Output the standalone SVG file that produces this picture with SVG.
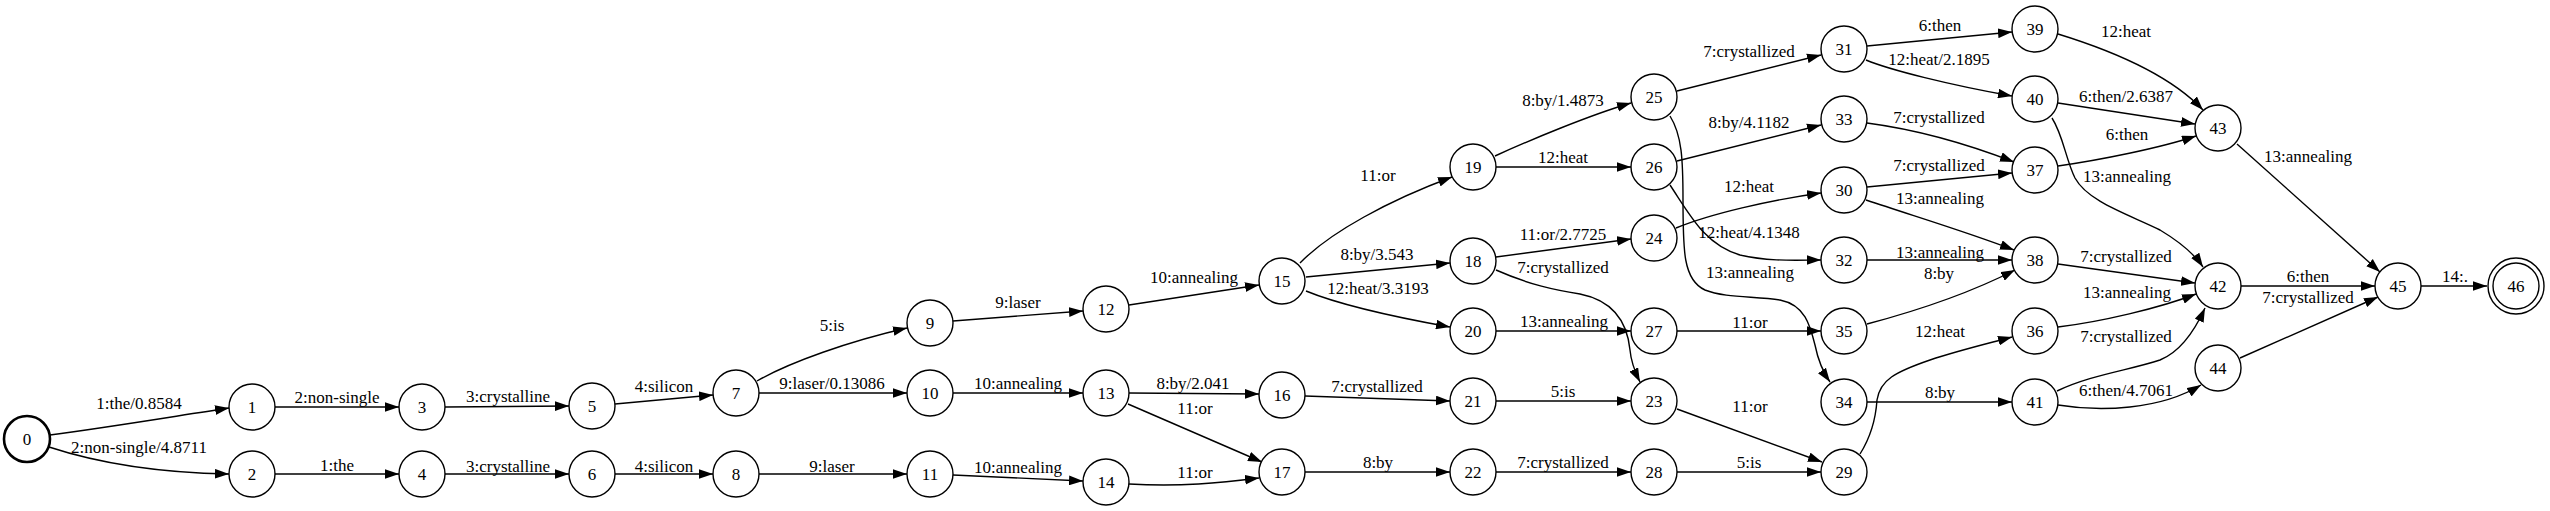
<svg xmlns="http://www.w3.org/2000/svg" width="2550" height="511" viewBox="0 0 2550 511">
<style>
.n circle{fill:#fff;stroke:#000;stroke-width:1.4}
text{font-family:"Liberation Serif","Times New Roman",serif;font-size:17px;fill:#000;text-anchor:middle}
.e path{fill:none;stroke:#000;stroke-width:1.4;marker-end:url(#ah)}
</style>
<defs>
<marker id="ah" markerUnits="userSpaceOnUse" markerWidth="14" markerHeight="10" viewBox="0 0 13 9" refX="13" refY="4.5" orient="auto">
<path d="M0,0 L13,4.5 L0,9 z" fill="#000"/>
</marker>
</defs>
<rect width="2550" height="511" fill="#fff"/>
<g id="edges" class="e">
<path d="M50,435 C110,427 170,417 229,408"/><text x="139" y="409">1:the/0.8584</text>
<path d="M49,447 C110,467 170,473 229,474"/><text x="139" y="453">2:non-single/4.8711</text>
<path d="M275,407 L399,407"/><text x="337" y="403">2:non-single</text>
<path d="M275,474 L399,474"/><text x="337" y="471">1:the</text>
<path d="M445,407 L569,406"/><text x="508" y="402">3:crystalline</text>
<path d="M445,474 L569,474"/><text x="508" y="472">3:crystalline</text>
<path d="M615,404 L713,395"/><text x="664" y="392">4:silicon</text>
<path d="M615,474 L713,474"/><text x="664" y="472">4:silicon</text>
<path d="M757,381 C790,362 850,341 907,328"/><text x="832" y="331">5:is</text>
<path d="M759,393 L907,393"/><text x="832" y="389">9:laser/0.13086</text>
<path d="M759,474 L907,474"/><text x="832" y="472">9:laser</text>
<path d="M953,321 L1083,311"/><text x="1018" y="308">9:laser</text>
<path d="M1129,305 L1259,285"/><text x="1194" y="283">10:annealing</text>
<path d="M953,393 L1083,393"/><text x="1018" y="389">10:annealing</text>
<path d="M953,475 L1083,481"/><text x="1018" y="473">10:annealing</text>
<path d="M1129,393 L1259,394"/><text x="1193" y="389">8:by/2.041</text>
<path d="M1128,404 L1262,462"/><text x="1195" y="414">11:or</text>
<path d="M1129,484 C1180,487 1220,483 1259,478"/><text x="1195" y="478">11:or</text>
<path d="M1300,263 C1330,232 1390,200 1452,177"/><text x="1378" y="181">11:or</text>
<path d="M1306,277 L1450,263"/><text x="1377" y="260">8:by/3.543</text>
<path d="M1306,291 C1340,305 1400,318 1450,327"/><text x="1378" y="294">12:heat/3.3193</text>
<path d="M1495,156 C1530,140 1590,115 1631,103"/><text x="1563" y="106">8:by/1.4873</text>
<path d="M1496,167 L1631,167"/><text x="1563" y="163">12:heat</text>
<path d="M1496,257 L1631,239"/><text x="1563" y="240">11:or/2.7725</text>
<path d="M1496,270 C1530,285 1555,290 1580,294 C1620,302 1628,330 1630,350 C1631,362 1635,372 1640,382"/><text x="1563" y="273">7:crystallized</text>
<path d="M1496,331 L1631,331"/><text x="1564" y="327">13:annealing</text>
<path d="M1305,396 L1450,401"/><text x="1377" y="392">7:crystallized</text>
<path d="M1496,401 L1631,401"/><text x="1563" y="397">5:is</text>
<path d="M1305,472 L1450,472"/><text x="1378" y="468">8:by</text>
<path d="M1496,472 L1631,472"/><text x="1563" y="468">7:crystallized</text>
<path d="M1677,91 L1821,55"/><text x="1749" y="57">7:crystallized</text>
<path d="M1670,116 C1682,135 1683,160 1683,200 C1683,250 1683,280 1705,290 C1725,298 1755,296 1780,300 C1805,305 1810,325 1815,345 C1818,360 1823,372 1830,382"/><text x="1750" y="278">13:annealing</text>
<path d="M1677,161 L1821,125"/><text x="1749" y="128">8:by/4.1182</text>
<path d="M1670,185 C1690,215 1705,245 1740,255 C1770,262 1800,260 1821,260"/><text x="1749" y="238">12:heat/4.1348</text>
<path d="M1676,228 C1710,214 1770,200 1821,193"/><text x="1749" y="192">12:heat</text>
<path d="M1677,331 L1821,331"/><text x="1750" y="328">11:or</text>
<path d="M1677,409 L1822,462"/><text x="1750" y="412">11:or</text>
<path d="M1677,472 L1821,472"/><text x="1749" y="468">5:is</text>
<path d="M1867,46 L2012,32"/><text x="1940" y="31">6:then</text>
<path d="M1866,60 C1890,70 1950,85 2012,96"/><text x="1939" y="65">12:heat/2.1895</text>
<path d="M1867,123 C1920,130 1970,145 2014,162"/><text x="1939" y="123">7:crystallized</text>
<path d="M1867,187 L2012,173"/><text x="1939" y="171">7:crystallized</text>
<path d="M1866,200 C1920,218 1970,233 2014,250"/><text x="1940" y="204">13:annealing</text>
<path d="M1867,260 L2012,260"/><text x="1940" y="258">13:annealing</text>
<path d="M1867,324 C1920,310 1970,293 2015,270"/><text x="1939" y="279">8:by</text>
<path d="M1860,454 C1872,435 1876,415 1877,400 C1880,380 1895,372 1930,360 C1960,350 1990,343 2012,337"/><text x="1940" y="337">12:heat</text>
<path d="M1867,402 L2012,402"/><text x="1940" y="398">8:by</text>
<path d="M2058,34 C2110,50 2170,75 2203,110"/><text x="2126" y="37">12:heat</text>
<path d="M2058,103 L2195,124"/><text x="2126" y="102">6:then/2.6387</text>
<path d="M2058,166 C2100,160 2160,148 2196,136"/><text x="2127" y="140">6:then</text>
<path d="M2052,118 C2063,135 2066,160 2075,178 C2088,202 2130,215 2160,230 C2180,242 2195,255 2203,267"/><text x="2127" y="182">13:annealing</text>
<path d="M2058,264 L2195,283"/><text x="2126" y="262">7:crystallized</text>
<path d="M2058,327 C2100,322 2160,308 2196,294"/><text x="2127" y="298">13:annealing</text>
<path d="M2057,391 C2090,375 2130,370 2160,360 C2180,352 2195,330 2205,308"/><text x="2126" y="342">7:crystallized</text>
<path d="M2058,405 C2100,412 2160,410 2201,385"/><text x="2126" y="396">6:then/4.7061</text>
<path d="M2237,144 L2380,272"/><text x="2308" y="162">13:annealing</text>
<path d="M2241,286 L2375,286"/><text x="2308" y="282">6:then</text>
<path d="M2240,358 L2378,297"/><text x="2308" y="303">7:crystallized</text>
<path d="M2421,286 L2487,286"/><text x="2455" y="282">14:.</text>
</g>
<g id="n0" class="n"><circle cx="27" cy="439" r="23" style="stroke-width:2.6"/><text x="27" y="445">0</text></g>
<g id="n1" class="n"><circle cx="252" cy="407" r="23"/><text x="252" y="413">1</text></g>
<g id="n2" class="n"><circle cx="252" cy="474" r="23"/><text x="252" y="480">2</text></g>
<g id="n3" class="n"><circle cx="422" cy="407" r="23"/><text x="422" y="413">3</text></g>
<g id="n4" class="n"><circle cx="422" cy="474" r="23"/><text x="422" y="480">4</text></g>
<g id="n5" class="n"><circle cx="592" cy="406" r="23"/><text x="592" y="412">5</text></g>
<g id="n6" class="n"><circle cx="592" cy="474" r="23"/><text x="592" y="480">6</text></g>
<g id="n7" class="n"><circle cx="736" cy="393" r="23"/><text x="736" y="399">7</text></g>
<g id="n8" class="n"><circle cx="736" cy="474" r="23"/><text x="736" y="480">8</text></g>
<g id="n9" class="n"><circle cx="930" cy="323" r="23"/><text x="930" y="329">9</text></g>
<g id="n10" class="n"><circle cx="930" cy="393" r="23"/><text x="930" y="399">10</text></g>
<g id="n11" class="n"><circle cx="930" cy="474" r="23"/><text x="930" y="480">11</text></g>
<g id="n12" class="n"><circle cx="1106" cy="309" r="23"/><text x="1106" y="315">12</text></g>
<g id="n13" class="n"><circle cx="1106" cy="393" r="23"/><text x="1106" y="399">13</text></g>
<g id="n14" class="n"><circle cx="1106" cy="482" r="23"/><text x="1106" y="488">14</text></g>
<g id="n15" class="n"><circle cx="1282" cy="281" r="23"/><text x="1282" y="287">15</text></g>
<g id="n16" class="n"><circle cx="1282" cy="395" r="23"/><text x="1282" y="401">16</text></g>
<g id="n17" class="n"><circle cx="1282" cy="472" r="23"/><text x="1282" y="478">17</text></g>
<g id="n18" class="n"><circle cx="1473" cy="261" r="23"/><text x="1473" y="267">18</text></g>
<g id="n19" class="n"><circle cx="1473" cy="167" r="23"/><text x="1473" y="173">19</text></g>
<g id="n20" class="n"><circle cx="1473" cy="331" r="23"/><text x="1473" y="337">20</text></g>
<g id="n21" class="n"><circle cx="1473" cy="401" r="23"/><text x="1473" y="407">21</text></g>
<g id="n22" class="n"><circle cx="1473" cy="472" r="23"/><text x="1473" y="478">22</text></g>
<g id="n23" class="n"><circle cx="1654" cy="401" r="23"/><text x="1654" y="407">23</text></g>
<g id="n24" class="n"><circle cx="1654" cy="238" r="23"/><text x="1654" y="244">24</text></g>
<g id="n25" class="n"><circle cx="1654" cy="97" r="23"/><text x="1654" y="103">25</text></g>
<g id="n26" class="n"><circle cx="1654" cy="167" r="23"/><text x="1654" y="173">26</text></g>
<g id="n27" class="n"><circle cx="1654" cy="331" r="23"/><text x="1654" y="337">27</text></g>
<g id="n28" class="n"><circle cx="1654" cy="472" r="23"/><text x="1654" y="478">28</text></g>
<g id="n29" class="n"><circle cx="1844" cy="472" r="23"/><text x="1844" y="478">29</text></g>
<g id="n30" class="n"><circle cx="1844" cy="190" r="23"/><text x="1844" y="196">30</text></g>
<g id="n31" class="n"><circle cx="1844" cy="49" r="23"/><text x="1844" y="55">31</text></g>
<g id="n32" class="n"><circle cx="1844" cy="260" r="23"/><text x="1844" y="266">32</text></g>
<g id="n33" class="n"><circle cx="1844" cy="119" r="23"/><text x="1844" y="125">33</text></g>
<g id="n34" class="n"><circle cx="1844" cy="402" r="23"/><text x="1844" y="408">34</text></g>
<g id="n35" class="n"><circle cx="1844" cy="331" r="23"/><text x="1844" y="337">35</text></g>
<g id="n36" class="n"><circle cx="2035" cy="331" r="23"/><text x="2035" y="337">36</text></g>
<g id="n37" class="n"><circle cx="2035" cy="170" r="23"/><text x="2035" y="176">37</text></g>
<g id="n38" class="n"><circle cx="2035" cy="260" r="23"/><text x="2035" y="266">38</text></g>
<g id="n39" class="n"><circle cx="2035" cy="29" r="23"/><text x="2035" y="35">39</text></g>
<g id="n40" class="n"><circle cx="2035" cy="99" r="23"/><text x="2035" y="105">40</text></g>
<g id="n41" class="n"><circle cx="2035" cy="402" r="23"/><text x="2035" y="408">41</text></g>
<g id="n42" class="n"><circle cx="2218" cy="286" r="23"/><text x="2218" y="292">42</text></g>
<g id="n43" class="n"><circle cx="2218" cy="128" r="23"/><text x="2218" y="134">43</text></g>
<g id="n44" class="n"><circle cx="2218" cy="368" r="23"/><text x="2218" y="374">44</text></g>
<g id="n45" class="n"><circle cx="2398" cy="286" r="23"/><text x="2398" y="292">45</text></g>
<g id="n46" class="n"><circle cx="2516" cy="286" r="28"/><circle cx="2516" cy="286" r="23"/><text x="2516" y="292">46</text></g>
</svg>
